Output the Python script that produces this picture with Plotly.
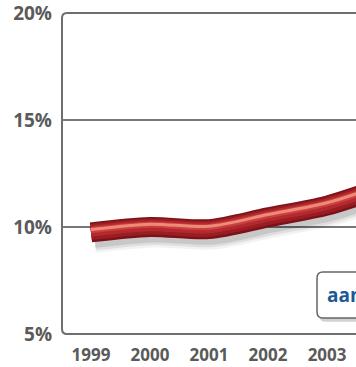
import plotly.graph_objects as go

years = [1999, 2000, 2001, 2002, 2003, 2004]
share = [9.75, 10.0, 9.9, 10.45, 11.0, 11.9]
y_ticks = [5, 10, 15, 20]
y_tick_labels = ["5%", "10%", "15%", "20%"]
legend_label = "aandeel"

fig = go.Figure()

# soft shadow
for w, op in [(28, 0.05), (23, 0.08), (18, 0.10)]:
    fig.add_trace(go.Scatter(
        x=[v + 0.06 for v in years], y=[v - 0.3 for v in share],
        mode="lines", line=dict(color=f"rgba(0,0,0,{op})", width=w, shape="spline", smoothing=0.8),
        hoverinfo="skip", showlegend=False))

# tube layers
layers = [
    (20, "#7c1219", 0.0),
    (16, "#9a1d24", 0.02),
    (11, "#b3292e", 0.06),
    (6, "#c8403f", 0.10),
    (3, "#ef8a78", 0.13),
]
for w, c, off in layers:
    fig.add_trace(go.Scatter(
        x=years, y=[v + off for v in share],
        mode="lines", line=dict(color=c, width=w, shape="spline", smoothing=0.8),
        hoverinfo="skip", showlegend=False))

# rounded frame (left, top, bottom)
rx, ry = 5 / 294, 5 / 321
frame = (f"M 1.2,1 L {rx},1 Q 0,1 0,{1-ry} L 0,{ry} Q 0,0 {rx},0 L 1.2,0")
fig.add_shape(type="path", xref="paper", yref="paper", path=frame,
              line=dict(color="#6e6e6e", width=2), layer="above")

# legend-like box (cropped at right edge)
bx0, by0, by1 = (317 - 62) / 294, (334 - 318) / 321, (334 - 272) / 321
r2x, r2y = 6 / 294, 6 / 321
box_sh = (f"M 1.3,{by1-0.012} L {bx0+r2x+0.008},{by1-0.012} Q {bx0+0.008},{by1-0.012} {bx0+0.008},{by1-0.012-r2y} "
          f"L {bx0+0.008},{by0-0.012+r2y} Q {bx0+0.008},{by0-0.012} {bx0+r2x+0.008},{by0-0.012} L 1.3,{by0-0.012} Z")
fig.add_shape(type="path", xref="paper", yref="paper", path=box_sh,
              fillcolor="rgba(0,0,0,0.18)", line=dict(width=0), layer="above")
box = (f"M 1.3,{by1} L {bx0+r2x},{by1} Q {bx0},{by1} {bx0},{by1-r2y} "
       f"L {bx0},{by0+r2y} Q {bx0},{by0} {bx0+r2x},{by0} L 1.3,{by0} Z")
fig.add_shape(type="path", xref="paper", yref="paper", path=box,
              fillcolor="white", line=dict(color="#666666", width=1.5), layer="above")
fig.add_annotation(xref="paper", yref="paper", x=(325 - 62) / 294, y=(by0 + by1) / 2,
                   xanchor="left", yanchor="middle", showarrow=False,
                   text=f"<b>{legend_label}</b>",
                   font=dict(family="Open Sans", size=19, color="#1a5a96"))

fig.update_layout(
    width=356, height=367,
    margin=dict(l=62, r=0, t=13, b=33),
    paper_bgcolor="white", plot_bgcolor="white",
    xaxis=dict(range=[1998.51, 2003.49], tickvals=years[:5], ticktext=[str(v) for v in years[:5]],
               showgrid=False, zeroline=False, showline=False, ticks="", ticklabelstandoff=9,
               ticklabeloverflow="allow",
               tickfont=dict(family="Open Sans", size=17, color="#5a5a5a", weight="bold")),
    yaxis=dict(range=[5, 20], tickvals=y_ticks, ticktext=y_tick_labels,
               showgrid=True, gridcolor="#777777", gridwidth=1.5, zeroline=False, showline=False,
               ticks="", ticklabelstandoff=9, ticklabeloverflow="allow",
               tickfont=dict(family="Open Sans", size=19, color="#5a5a5a", weight="bold")),
)

fig.write_html("out.html")
